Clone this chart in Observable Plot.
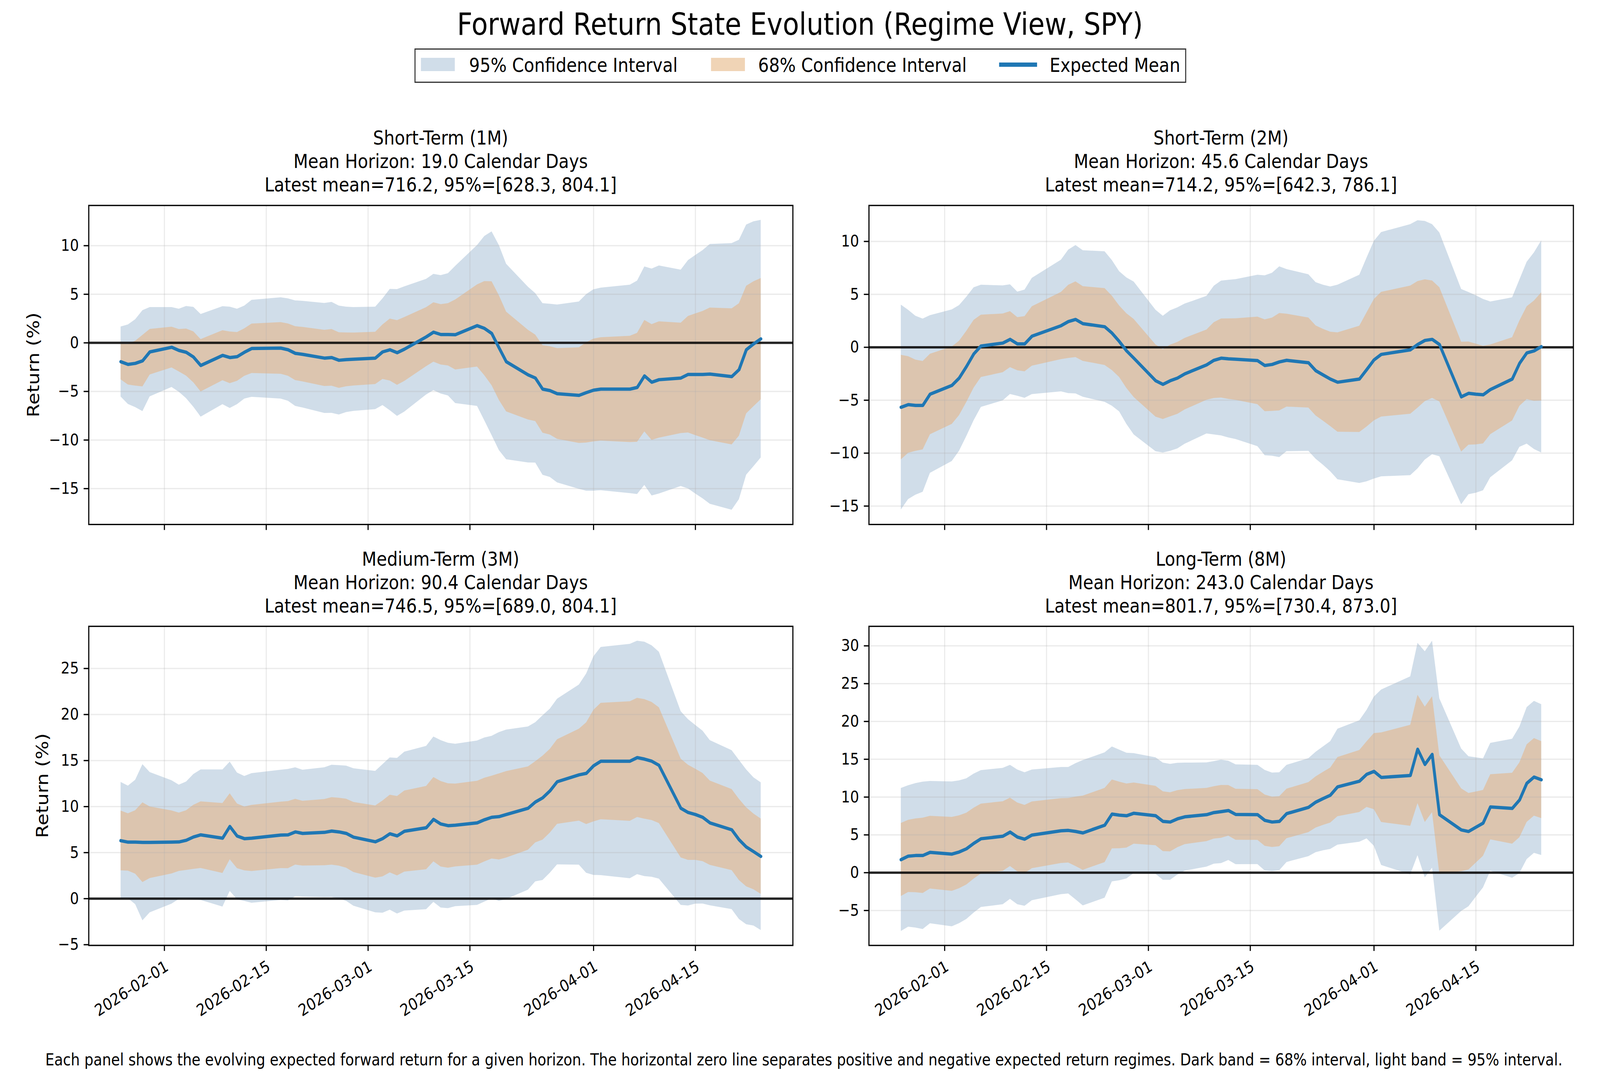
<!DOCTYPE html>
<html><head><meta charset="utf-8">
<script src="https://cdn.jsdelivr.net/npm/d3@7"></script>
<script src="https://cdn.jsdelivr.net/npm/@observablehq/plot@0.6"></script>
<style>
html,body{margin:0;padding:0;background:#fff;overflow:hidden;}
#page{position:absolute;left:0;top:0;width:4721px;height:2767px;overflow:hidden;font-family:"DejaVu Sans",sans-serif;color:#000;background:#fff;transform-origin:0 0;}
.abs{position:absolute;white-space:nowrap;line-height:1;}
.panel{position:absolute;}
</style></head><body><div id="page"></div>
<script>
// ---------- DATA ----------
const dates = ["2026-01-26","2026-01-27","2026-01-28","2026-01-29","2026-01-30",
"2026-02-02","2026-02-03","2026-02-04","2026-02-05","2026-02-06",
"2026-02-09","2026-02-10","2026-02-11","2026-02-12","2026-02-13",
"2026-02-17","2026-02-18","2026-02-19","2026-02-20",
"2026-02-23","2026-02-24","2026-02-25","2026-02-26","2026-02-27",
"2026-03-02","2026-03-03","2026-03-04","2026-03-05","2026-03-06",
"2026-03-09","2026-03-10","2026-03-11","2026-03-12","2026-03-13",
"2026-03-16","2026-03-17","2026-03-18","2026-03-19","2026-03-20",
"2026-03-23","2026-03-24","2026-03-25","2026-03-26","2026-03-27",
"2026-03-30","2026-03-31","2026-04-01","2026-04-02",
"2026-04-06","2026-04-07","2026-04-08","2026-04-09","2026-04-10",
"2026-04-13","2026-04-14","2026-04-15","2026-04-16","2026-04-17",
"2026-04-20","2026-04-21","2026-04-22","2026-04-23","2026-04-24"];

// Expected mean forward return (%)
const mean1M = [-1.94,-2.22,-2.11,-1.85,-0.93,-0.45,-0.78,-0.97,-1.46,-2.33,-1.29,-1.51,-1.42,-0.97,-0.58,-0.54,-0.71,-1.08,-1.18,-1.57,-1.51,-1.79,-1.72,-1.68,-1.57,-0.93,-0.71,-1.01,-0.65,0.62,1.10,0.86,0.86,0.84,1.77,1.49,0.97,-0.50,-1.94,-3.29,-3.62,-4.76,-4.91,-5.23,-5.40,-5.12,-4.87,-4.76,-4.76,-4.59,-3.40,-4.05,-3.79,-3.62,-3.25,-3.25,-3.25,-3.21,-3.47,-2.76,-0.71,-0.11,0.41];
const mean2M = [-5.67,-5.42,-5.49,-5.49,-4.43,-3.60,-2.91,-1.82,-0.63,0.12,0.40,0.75,0.32,0.32,1.05,2.04,2.43,2.63,2.23,1.94,1.34,0.55,-0.34,-1.03,-3.16,-3.50,-3.16,-2.91,-2.51,-1.66,-1.23,-1.03,-1.09,-1.13,-1.26,-1.72,-1.62,-1.38,-1.23,-1.46,-2.21,-2.61,-3.00,-3.30,-3.00,-2.11,-1.19,-0.67,-0.24,0.26,0.65,0.75,0.26,-4.68,-4.35,-4.43,-4.49,-3.99,-3.00,-1.52,-0.53,-0.34,0.06];
const mean3M = [6.30,6.14,6.14,6.11,6.11,6.14,6.16,6.34,6.70,6.93,6.57,7.84,6.80,6.52,6.57,6.91,6.93,7.25,7.09,7.20,7.34,7.25,7.09,6.68,6.18,6.52,7.05,6.82,7.32,7.70,8.61,8.11,7.93,7.98,8.23,8.57,8.84,8.91,9.14,9.82,10.50,10.95,11.70,12.70,13.45,13.61,14.43,14.93,14.93,15.32,15.16,14.93,14.48,9.82,9.36,9.14,8.84,8.23,7.48,6.41,5.61,5.11,4.59];
const mean8M = [1.72,2.19,2.27,2.27,2.69,2.46,2.74,3.16,3.88,4.49,4.82,5.37,4.71,4.43,4.98,5.54,5.59,5.45,5.26,6.28,7.75,7.61,7.53,7.86,7.53,6.78,6.70,7.12,7.39,7.67,7.95,8.08,8.22,7.70,7.67,6.92,6.70,6.78,7.81,8.64,9.33,9.80,10.24,11.35,12.10,13.01,13.40,12.60,12.85,16.33,14.31,15.64,7.67,5.65,5.45,6.01,6.56,8.69,8.50,9.61,11.82,12.65,12.29];

// Half-width of the 95% interval (%)
const hw1M = [3.60,4.09,4.52,5.19,4.59,4.11,4.27,4.74,5.14,5.28,5.04,5.21,4.91,4.78,4.99,5.21,5.27,5.43,5.49,5.66,5.71,5.60,5.42,5.34,5.27,5.49,6.24,6.52,6.44,5.95,5.98,6.09,6.29,7.06,8.28,9.49,10.48,10.55,10.06,9.04,8.72,8.83,8.91,9.15,9.64,10.11,10.36,10.42,10.72,10.98,11.24,11.67,11.73,11.13,11.75,12.27,12.77,13.37,13.72,13.35,12.87,12.60,12.23];
const hw2M = [9.68,8.94,8.45,8.18,7.45,7.16,6.88,6.58,6.28,5.77,5.43,5.18,4.92,5.11,5.49,6.22,6.78,7.01,6.92,7.11,6.88,6.62,6.92,7.22,6.68,6.46,6.64,6.66,6.62,6.50,7.02,7.31,7.45,7.55,8.10,8.50,8.64,9.01,8.60,8.34,8.34,8.50,8.73,9.19,9.84,10.57,11.23,11.54,11.86,11.72,11.27,10.87,10.57,10.17,9.55,9.33,9.04,8.30,7.70,7.90,8.59,9.29,10.02];
const hw3M = [6.36,6.11,6.75,8.48,7.62,6.70,6.20,6.36,6.82,7.09,7.45,7.02,6.88,6.78,7.04,7.07,7.14,7.00,6.89,7.05,7.18,7.23,7.34,7.46,7.68,8.07,8.27,8.45,8.63,8.87,8.98,9.09,8.98,8.82,8.93,8.91,8.82,9.16,9.20,8.86,8.64,8.94,8.91,9.00,9.78,10.82,11.87,12.39,12.73,12.68,12.73,12.57,12.32,10.52,10.12,9.70,9.39,8.97,8.63,8.64,8.41,8.05,8.02];
const hw8M = [9.46,9.35,9.55,9.75,9.41,9.58,9.44,9.30,9.19,9.05,9.02,8.86,8.91,8.83,8.64,8.41,8.36,9.00,9.61,9.61,8.92,8.64,8.31,7.92,7.70,7.75,7.67,7.39,7.14,6.89,6.78,6.84,6.56,6.60,6.56,6.65,6.51,6.48,6.42,6.48,6.64,6.87,7.12,7.67,8.03,8.50,9.86,11.60,13.09,14.04,14.95,15.01,15.36,10.74,9.92,9.22,8.53,8.45,9.19,9.69,10.05,10.05,9.97];

const panelNames = ["Short-Term (1M)","Short-Term (2M)","Medium-Term (3M)","Long-Term (8M)"];
const horizonDays = ["19.0","45.6","90.4","243.0"];
const latestMean = ["716.2","714.2","746.5","801.7"];
const latestLo = ["628.3","642.3","689.0","730.4"];
const latestHi = ["804.1","786.1","804.1","873.0"];

const yTicks1M = [-15,-10,-5,0,5,10];
const yTicks2M = [-15,-10,-5,0,5,10];
const yTicks3M = [-5,0,5,10,15,20,25];
const yTicks8M = [-5,0,5,10,15,20,25,30];
const yDom1M = [-18.69,14.14];
const yDom2M = [-16.74,13.40];
const yDom3M = [-5.08,29.58];
const yDom8M = [-9.62,32.58];
const xTickLabels = ["2026-02-01","2026-02-15","2026-03-01","2026-03-15","2026-04-01","2026-04-15"];

const legendLabels = ["95% Confidence Interval","68% Confidence Interval","Expected Mean"];
const titleText = "Forward Return State Evolution (Regime View, SPY)";
const captionText = "Each panel shows the evolving expected forward return for a given horizon. The horizontal zero line separates positive and negative expected return regimes. Dark band = 68% interval, light band = 95% interval.";

// ---------- STYLE ----------
const C95 = "#d0dde9", C68 = "#e5b483", C68op = 0.57, CMEAN = "#1f77b4";
const Z68 = 1.0 / 1.96;
const parseD = s => new Date(s + "T00:00:00Z");
const DAY = 86400000;
const xDomain = [new Date(parseD(dates[0]) - 4.4*DAY), new Date(+parseD(dates[dates.length-1]) + 4.4*DAY)];
const xTicks = xTickLabels.map(parseD);
const fmt = d3.utcFormat("%Y-%m-%d");

const page = document.getElementById("page");
function addText(txt, opts) {
  const d = document.createElement("div");
  d.className = "abs";
  d.textContent = txt;
  Object.assign(d.style, opts);
  page.appendChild(d);
  return d;
}

function rowsFor(m, hw) {
  return dates.map((s, i) => ({
    date: parseD(s), mean: m[i],
    lo95: m[i] - hw[i], hi95: m[i] + hw[i],
    lo68: m[i] - hw[i]*Z68, hi68: m[i] + hw[i]*Z68
  }));
}

function panel(cfg) {
  const rows = rowsFor(cfg.mean, cfg.hw);
  const marks = [
    Plot.areaY(rows, {x: "date", y1: "lo95", y2: "hi95", fill: C95}),
    Plot.areaY(rows, {x: "date", y1: "lo68", y2: "hi68", fill: C68, fillOpacity: C68op}),
    Plot.gridX(xTicks, {stroke: "#b0b0b0", strokeOpacity: 0.25, strokeWidth: 3.3}),
    Plot.gridY(cfg.yTicks, {stroke: "#b0b0b0", strokeOpacity: 0.25, strokeWidth: 3.3}),
    Plot.ruleY([0], {stroke: "black", strokeOpacity: 0.85, strokeWidth: 6}),
    Plot.line(rows, {x: "date", y: "mean", stroke: CMEAN, strokeWidth: 8.5}),
    Plot.frame({stroke: "black", strokeWidth: 3.3}),
    Plot.axisY(cfg.yTicks, {tickSize: 14.6, tickPadding: 14.6, strokeWidth: 3.3, fontSize: 41.7, label: null}),
    Plot.axisX(xTicks, {tickSize: 14.6, strokeWidth: 3.3, tickFormat: () => "", label: null})
  ];
  if (cfg.bottom) {
    marks.push(Plot.text(xTicks, {x: d => d, frameAnchor: "bottom", dy: 36, rotate: -30,
      textAnchor: "end", lineAnchor: "top", text: d => fmt(d), fontSize: 41.7, fill: "black"}));
  }
  const svg = Plot.plot({
    width: cfg.w, height: cfg.h,
    marginLeft: cfg.ml, marginRight: cfg.mr, marginTop: cfg.mt, marginBottom: cfg.mb,
    x: {type: "utc", domain: xDomain},
    y: {domain: cfg.yDom},
    style: {fontFamily: "DejaVu Sans", fontSize: "41.7px", color: "black", background: "transparent", overflow: "visible"},
    marks
  });
  svg.classList.add("panel");
  svg.style.left = cfg.left + "px";
  svg.style.top = cfg.top + "px";
  page.appendChild(svg);
}

// Axes frames (figure px): left col 261.4–2339, right col 2563.5–4642; top row 525.4–1342, bottom row 1602.7–2419.5
panel({mean: mean1M, hw: hw1M, yTicks: yTicks1M, yDom: yDom1M, bottom: false,
  left: 0, top: 480, w: 2400, h: 920, ml: 261.4, mr: 61, mt: 45.4, mb: 58});
panel({mean: mean2M, hw: hw2M, yTicks: yTicks2M, yDom: yDom2M, bottom: false,
  left: 2400, top: 480, w: 2321, h: 920, ml: 163.5, mr: 79, mt: 45.4, mb: 58});
panel({mean: mean3M, hw: hw3M, yTicks: yTicks3M, yDom: yDom3M, bottom: true,
  left: 0, top: 1560, w: 2400, h: 1140, ml: 261.4, mr: 61, mt: 42.7, mb: 280.5});
panel({mean: mean8M, hw: hw8M, yTicks: yTicks8M, yDom: yDom8M, bottom: true,
  left: 2400, top: 1560, w: 2321, h: 1140, ml: 163.5, mr: 79, mt: 42.7, mb: 280.5});

// ---------- TEXT ----------
const asc = 0.846; // baseline offset (em) for line-height:1 in DejaVu Sans
function textAt(txt, cx, baseline, size, align) {
  const d = addText(txt, {fontSize: size + "px", top: (baseline - asc*size) + "px"});
  if (align === "center") { d.style.left = cx + "px"; d.style.transform = "translateX(-50%)"; }
  else d.style.left = cx + "px";
  return d;
}
textAt(titleText, 2360.5, 90, 79, "center");

// panel titles
const centers = [[1300.2, 370], [3602.75, 370], [1300.2, 1448], [3602.75, 1448]];
panelNames.forEach((n, i) => {
  const [cx, b] = centers[i];
  textAt(n, cx, b, 50, "center");
  textAt("Mean Horizon: " + horizonDays[i] + " Calendar Days", cx, b + 60, 50, "center");
  textAt("Latest mean=" + latestMean[i] + ", 95%=[" + latestLo[i] + ", " + latestHi[i] + "]", cx, b + 120, 50, "center");
});

// y labels
[[98, 933.7], [125, 2011]].forEach(([cx, cy]) => {
  addText("Return (%)", {fontSize: "50px", left: cx + "px", top: cy + "px", transform: "translate(-50%,-50%) rotate(-90deg)"});
});

// caption
textAt(captionText, 2372, 2728, 42, "center");

// legend
const lg = document.createElement("div");
Object.assign(lg.style, {position: "absolute", left: "1223px", top: "124px", width: "2271px", height: "82px", border: "3px solid #333", background: "#fff", boxSizing: "content-box"});
page.appendChild(lg);
function sw(left, color, w, h, top) {
  const s = document.createElement("div");
  Object.assign(s.style, {position: "absolute", left: left + "px", top: top + "px", width: w + "px", height: h + "px", background: color});
  page.appendChild(s);
}
sw(1242, C95, 100, 34, 148);
sw(2098, "#f0d4b6", 100, 34, 148);
sw(2948, CMEAN, 112, 11, 159.5);
textAt(legendLabels[0], 1384, 184, 50);
textAt(legendLabels[1], 2237, 184, 50);
textAt(legendLabels[2], 3097, 184, 50);

// ---------- FIT TO WINDOW ----------
function fit() {
  const vw = document.documentElement.clientWidth || window.innerWidth;
  const vh = document.documentElement.clientHeight || window.innerHeight;
  const sx = vw / 4721, sy = vh / 2767;
  page.style.transform = (Math.abs(sx - 1) < 1e-3 && Math.abs(sy - 1) < 1e-3) ? "none" : `scale(${sx},${sy})`;
}
fit();
window.addEventListener("resize", fit);
</script></body></html>
